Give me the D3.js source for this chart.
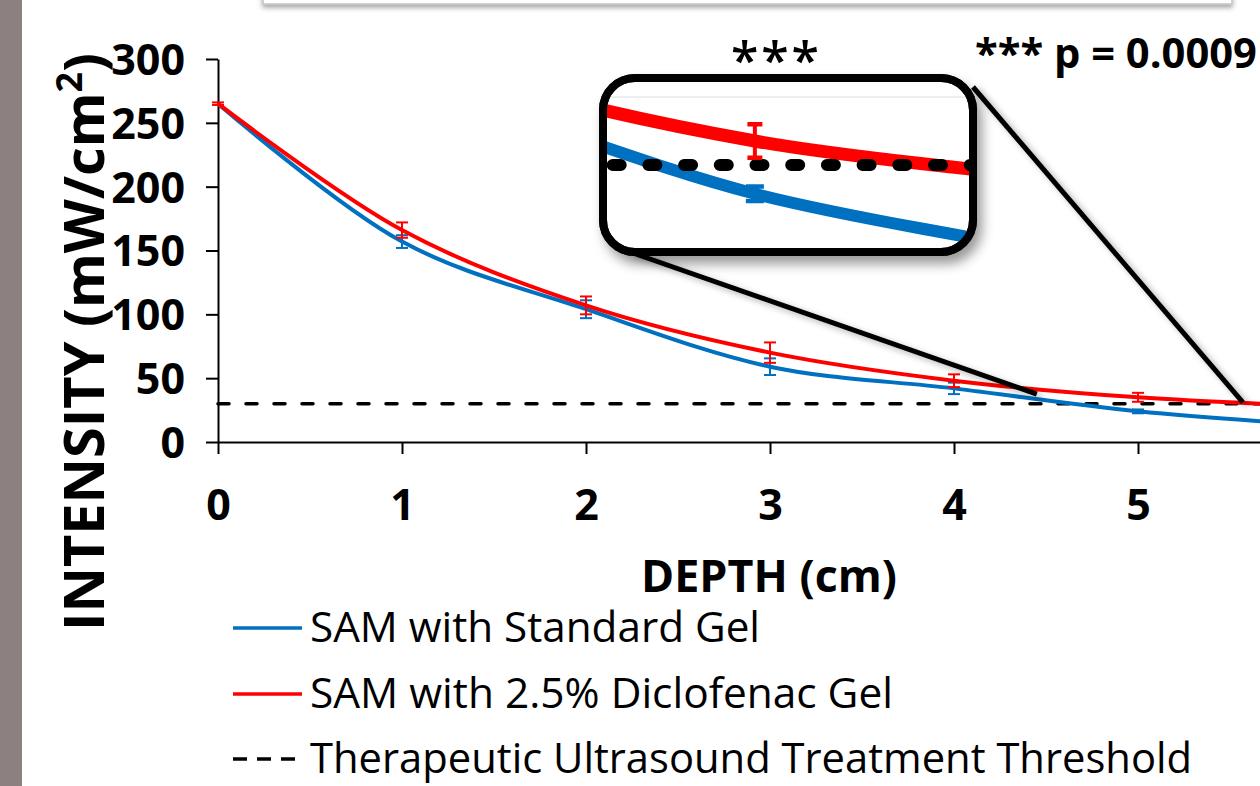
<!DOCTYPE html>
<html><head><meta charset="utf-8">
<script src="https://cdn.jsdelivr.net/npm/d3@7"></script>
<style>html,body{margin:0;padding:0;background:#fff;overflow:hidden}</style>
</head><body>
<svg id="c" width="1260" height="786"></svg>
<script>
// ---- data ----
const depth = [0, 1, 2, 3, 4, 5, 6];
const standardGel = [265, 157, 104, 59, 42, 24, 13];
const standardErr = [0, 5, 7, 6.5, 4.5, 1.5, 1];
const diclofenacGel = [265, 166, 107, 70, 48, 35, 28];
const diclofenacErr = [1, 6, 7, 8, 5, 3.5, 1];
const threshold = 30;
const yTicks = [0, 50, 100, 150, 200, 250, 300];
const xTicks = [0, 1, 2, 3, 4, 5];
const seriesNames = ["SAM with Standard Gel", "SAM with 2.5% Diclofenac Gel", "Therapeutic Ultrasound Treatment Threshold"];
const pValueText = "*** p = 0.0009";
const starsText = "***";
const zoomXDomain = [4.45, 5.8];
const zoomYDomain = [12.7, 47.3];
const calloutTargets = [[4.45, 37.5], [5.57, 31]];

// ---- setup ----
const svg = d3.select("#c");
const FONT = "'Open Sans', 'Noto Sans', sans-serif";
const BLUE = "#0070C0", RED = "#FF0000";

function fitWidth(sel, target) {
  const fs = parseFloat(sel.attr("font-size"));
  const w = sel.node().getComputedTextLength();
  if (w > 0) sel.attr("font-size", (fs * target / w).toFixed(2));
}

const defs = svg.append("defs");
const sh = defs.append("filter").attr("id", "shadow").attr("x", "-20%").attr("y", "-20%").attr("width", "150%").attr("height", "160%");
sh.append("feDropShadow").attr("dx", 5).attr("dy", 8).attr("stdDeviation", 6).attr("flood-color", "#000").attr("flood-opacity", 0.4);
const sh2 = defs.append("filter").attr("id", "lshadow").attr("x", "-20%").attr("y", "-20%").attr("width", "150%").attr("height", "150%");
sh2.append("feDropShadow").attr("dx", 4).attr("dy", 3).attr("stdDeviation", 3).attr("flood-color", "#000").attr("flood-opacity", 0.3);
const sh3 = defs.append("filter").attr("id", "tshadow").attr("x", "-10%").attr("y", "-50%").attr("width", "120%").attr("height", "250%");
sh3.append("feDropShadow").attr("dx", 0).attr("dy", 3).attr("stdDeviation", 2.5).attr("flood-color", "#000").attr("flood-opacity", 0.35);

svg.append("rect").attr("width", 1260).attr("height", 786).attr("fill", "#fff");
// left strip
svg.append("rect").attr("x", 0).attr("y", 0).attr("width", 22).attr("height", 786).attr("fill", "#8c8080");
// top box (partially visible)
svg.append("rect").attr("x", 263).attr("y", -40).attr("width", 969).attr("height", 44)
  .attr("fill", "#fff").attr("stroke", "#c4c4c4").attr("stroke-width", 1.5).attr("filter", "url(#tshadow)");

// ---- scales ----
const x = d3.scaleLinear().domain([0, 6]).range([218, 1322]);
const y = d3.scaleLinear().domain([0, 300]).range([442, 59]);

// ---- axes ----
const yAxis = svg.append("g").attr("transform", `translate(${x(0)},0)`)
  .call(d3.axisLeft(y).tickValues(yTicks).tickFormat(d3.format("d")).tickSize(12).tickSizeOuter(0).tickPadding(21));
const xAxis = svg.append("g").attr("transform", `translate(0,${y(0)})`)
  .call(d3.axisBottom(x).tickValues(xTicks).tickFormat(d3.format("d")).tickSize(12).tickSizeOuter(0));
[yAxis, xAxis].forEach(g => {
  g.select(".domain").attr("stroke", "#000").attr("stroke-width", 2);
  g.selectAll(".tick line").attr("stroke", "#000").attr("stroke-width", 2);
  g.selectAll("text").attr("font-family", FONT).attr("font-weight", 700).attr("font-size", 43).attr("fill", "#000");
});
yAxis.selectAll("text").attr("dy", "0.36em");
xAxis.selectAll("text").attr("y", 78).attr("dy", 0);

// ---- threshold ----
svg.append("line").attr("x1", x(0)).attr("x2", x(6)).attr("y1", y(threshold)).attr("y2", y(threshold))
  .attr("stroke", "#000").attr("stroke-width", 3.5).attr("stroke-linecap", "round").attr("stroke-dasharray", "11,17");

// ---- series ----
const curve = d3.curveCatmullRom.alpha(0.5);
const series = [
  {vals: standardGel, err: standardErr, color: BLUE},
  {vals: diclofenacGel, err: diclofenacErr, color: RED}
];
series.forEach(s => {
  const pts = depth.map((d, i) => [d, s.vals[i], s.err[i]]);
  svg.append("path").datum(pts).attr("fill", "none").attr("stroke", s.color).attr("stroke-width", 4)
    .attr("d", d3.line().x(p => x(p[0])).y(p => y(p[1])).curve(curve));
  const eb = svg.append("g").attr("stroke", s.color).attr("stroke-width", 2).attr("fill", "none");
  pts.forEach(p => {
    if (p[2] <= 0) return;
    const cx = x(p[0]);
    eb.append("line").attr("x1", cx).attr("x2", cx).attr("y1", y(p[1] - p[2])).attr("y2", y(p[1] + p[2]));
    eb.append("line").attr("x1", cx - 6).attr("x2", cx + 6).attr("y1", y(p[1] - p[2])).attr("y2", y(p[1] - p[2]));
    eb.append("line").attr("x1", cx - 6).attr("x2", cx + 6).attr("y1", y(p[1] + p[2])).attr("y2", y(p[1] + p[2]));
  });
});

// ---- axis titles ----
const yt = svg.append("text").attr("transform", "translate(104,342) rotate(-90)")
  .attr("text-anchor", "middle").attr("font-family", FONT).attr("font-weight", 700).attr("font-size", 58).attr("fill", "#000");
yt.append("tspan").text("INTENSITY (mW/cm");
yt.append("tspan").attr("font-size", "64%").attr("dy", "-0.62em").text("2");
yt.append("tspan").attr("dy", "0.40em").text(")");
fitWidth(yt, 578);

const xt = svg.append("text").attr("x", 769).attr("y", 592).attr("text-anchor", "middle")
  .attr("font-family", FONT).attr("font-weight", 700).attr("font-size", 52).attr("fill", "#000").text("DEPTH (cm)");
fitWidth(xt, 256);

// ---- legend ----
const legY = [628, 694, 759];
const legW = [450, 583, 882];
const legColors = [BLUE, RED, "#000"];
seriesNames.forEach((n, i) => {
  const g = svg.append("g").attr("transform", `translate(0,${legY[i]})`);
  const ln = g.append("line").attr("x1", 233).attr("x2", 302).attr("y1", 0).attr("y2", 0)
    .attr("stroke", legColors[i]).attr("stroke-width", 3.5);
  if (i === 2) ln.attr("stroke-dasharray", "14,10");
  const t = g.append("text").attr("x", 310).attr("y", 14).attr("font-family", FONT).attr("font-size", 42)
    .attr("fill", "#000").text(n);
  fitWidth(t, legW[i]);
});

// ---- annotations ----
const pt = svg.append("text").attr("x", 975).attr("y", 68).attr("font-family", FONT).attr("font-weight", 700)
  .attr("font-size", 42).attr("fill", "#000").text(pValueText);
fitWidth(pt, 282);

svg.append("text").attr("x", 775).attr("y", 78).attr("text-anchor", "middle").attr("font-family", FONT)
  .attr("font-weight", 600).attr("font-size", 50).attr("fill", "#000")
  .attr("textLength", 88).attr("lengthAdjust", "spacing").text(starsText);

// ---- callout lines ----
const calloutStarts = [[630, 252], [973, 87]];
const cl = svg.append("g").attr("filter", "url(#lshadow)");
calloutTargets.forEach((t, i) => {
  cl.append("line").attr("x1", calloutStarts[i][0]).attr("y1", calloutStarts[i][1])
    .attr("x2", x(t[0])).attr("y2", y(t[1])).attr("stroke", "#000").attr("stroke-width", 5).attr("stroke-linecap", "butt");
});

// ---- inset ----
const IX0 = 607, IX1 = 970, IY0 = 82, IY1 = 248;
const xi = d3.scaleLinear().domain(zoomXDomain).range([IX0, IX1]);
const yi = d3.scaleLinear().domain(zoomYDomain).range([IY1, IY0]);
defs.append("clipPath").attr("id", "insetClip").append("rect")
  .attr("x", IX0).attr("y", IY0).attr("width", IX1 - IX0).attr("height", IY1 - IY0).attr("rx", 27);

svg.append("rect").attr("x", 603).attr("y", 78).attr("width", 370).attr("height", 174).attr("rx", 32)
  .attr("fill", "#fff").attr("stroke", "#000").attr("stroke-width", 8).attr("filter", "url(#shadow)");

const ins = svg.append("g").attr("clip-path", "url(#insetClip)");
ins.append("line").attr("x1", IX0).attr("x2", IX1).attr("y1", IY0 + 15).attr("y2", IY0 + 15)
  .attr("stroke", "#dcdcdc").attr("stroke-width", 1);
const insetWidths = [12, 13];
const capW = [18, 15], stemW = [8, 4];
series.slice().reverse().forEach((s, k) => {
  const idx = 1 - k;
  const pts = depth.map((d, i) => [d, s.vals[i], s.err[i]]);
  ins.append("path").datum(pts).attr("fill", "none").attr("stroke", s.color).attr("stroke-width", insetWidths[idx])
    .attr("d", d3.line().x(p => xi(p[0])).y(p => yi(p[1])).curve(curve));
});
ins.append("line").attr("x1", IX0 - 30).attr("x2", IX1).attr("y1", yi(threshold)).attr("y2", yi(threshold))
  .attr("stroke", "#000").attr("stroke-width", 12).attr("stroke-linecap", "round")
  .attr("stroke-dasharray", "8,27.7").attr("stroke-dashoffset", 0);
series.forEach((s, idx) => {
  const g = ins.append("g").attr("stroke", s.color).attr("fill", "none");
  depth.forEach((d, i) => {
    if (d < zoomXDomain[0] || d > zoomXDomain[1]) return;
    const cx = xi(d), lo = yi(s.vals[i] - s.err[i]), hi = yi(s.vals[i] + s.err[i]);
    g.append("line").attr("x1", cx).attr("x2", cx).attr("y1", lo).attr("y2", hi).attr("stroke-width", stemW[idx]);
    [lo, hi].forEach(v => g.append("line").attr("x1", cx - capW[idx] / 2).attr("x2", cx + capW[idx] / 2)
      .attr("y1", v).attr("y2", v).attr("stroke-width", 4.5));
  });
});
svg.append("rect").attr("x", 603).attr("y", 78).attr("width", 370).attr("height", 174).attr("rx", 32)
  .attr("fill", "none").attr("stroke", "#000").attr("stroke-width", 8);
</script>
</body></html>
